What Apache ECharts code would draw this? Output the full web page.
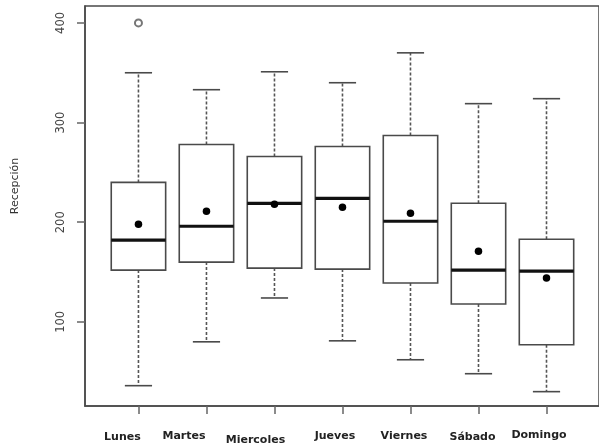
<!DOCTYPE html>
<html>
<head>
<meta charset="utf-8">
<script src="https://cdn.jsdelivr.net/npm/echarts@6/dist/echarts.min.js"></script>
<style>html,body{margin:0;padding:0;background:#fff;}#c{width:599px;height:448px;}</style>
</head>
<body>
<div id="c"></div>
<script>
const categories = ['Lunes','Martes','Miercoles','Jueves','Viernes','Sábado','Domingo'];
const whiskerLow  = [36, 80, 124, 81, 62, 48, 30];
const q1          = [152, 160, 154, 153, 139, 118, 77];
const median      = [182, 196, 219, 224, 201, 152, 151];
const q3          = [240, 278, 266, 276, 287, 219, 183];
const whiskerHigh = [350, 333, 351, 340, 370, 319, 324];
const means       = [198, 211, 218, 215, 209, 171, 144];
const outliers    = [[0, 400]];
const yTicks      = [100, 200, 300, 400];

// label placement styles (not data)
const labelDx = [-16, -22.5, -19, -7.5, -6.5, -6, -7.5];
const labelDy = [0, -1.5, 2.5, -1, -1, 0, -2];

const boxData = categories.map((c, i) => [i, whiskerLow[i], q1[i], median[i], q3[i], whiskerHigh[i]]);
const meanData = categories.map((c, i) => [i, means[i]]);
const xTicks = categories.map((c, i) => i);

const rich = {};
categories.forEach((c, i) => {
  const dx = labelDx[i], dy = labelDy[i] + 2;
  rich['l' + i] = {
    fontFamily: 'DejaVu Sans', fontSize: 11, fontWeight: 'bold', color: '#222',
    padding: [dy, dx < 0 ? -2 * dx : 0, 0, dx > 0 ? 2 * dx : 0]
  };
});

const lineColor = '#4a4a4a';

function renderBox(params, api) {
  const x = api.value(0);
  const pLow = api.coord([x, api.value(1)]);
  const pQ1 = api.coord([x, api.value(2)]);
  const pMed = api.coord([x, api.value(3)]);
  const pQ3 = api.coord([x, api.value(4)]);
  const pHigh = api.coord([x, api.value(5)]);
  const half = api.size([0.8, 0])[0] / 2;
  const cap = api.size([0.4, 0])[0] / 2;
  const cx = pMed[0];
  const dashStyle = { stroke: '#555', lineWidth: 1.6, lineDash: [3, 2] };
  const solid = { stroke: lineColor, lineWidth: 1.6 };
  return {
    type: 'group',
    children: [
      { type: 'line', shape: { x1: cx, y1: pQ3[1], x2: cx, y2: pHigh[1] }, style: dashStyle },
      { type: 'line', shape: { x1: cx, y1: pQ1[1], x2: cx, y2: pLow[1] }, style: dashStyle },
      { type: 'line', shape: { x1: cx - cap, y1: pHigh[1], x2: cx + cap, y2: pHigh[1] }, style: solid },
      { type: 'line', shape: { x1: cx - cap, y1: pLow[1], x2: cx + cap, y2: pLow[1] }, style: solid },
      { type: 'rect', shape: { x: cx - half, y: pQ3[1], width: 2 * half, height: pQ1[1] - pQ3[1] },
        style: { fill: '#fff', stroke: lineColor, lineWidth: 1.6 } },
      { type: 'line', shape: { x1: cx - half, y1: pMed[1], x2: cx + half, y2: pMed[1] },
        style: { stroke: '#111', lineWidth: 3.2 } }
    ]
  };
}

const chart = echarts.init(document.getElementById('c'), null, { renderer: 'canvas' });
chart.setOption({
  backgroundColor: '#fff',
  animation: false,
  grid: { left: 85, right: -5, top: 6, bottom: 42, show: true, borderColor: lineColor, borderWidth: 1.5, backgroundColor: 'transparent' },
  xAxis: {
    type: 'value', min: -0.786, max: 6.772,
    splitLine: { show: false },
    axisLine: { show: true, onZero: false, lineStyle: { color: lineColor, width: 1.5 } },
    axisTick: { show: true, customValues: xTicks, length: 8, lineStyle: { color: '#666', width: 1.5 } },
    axisLabel: {
      customValues: xTicks, margin: 24,
      formatter: v => '{l' + v + '|' + categories[v] + '}',
      rich: rich
    }
  },
  yAxis: {
    type: 'value', min: 15.6, max: 417,
    splitLine: { show: false },
    axisLine: { show: true, onZero: false, lineStyle: { color: lineColor, width: 1.5 } },
    axisTick: { show: true, customValues: yTicks, length: 8, lineStyle: { color: '#666', width: 1.5 } },
    axisLabel: { customValues: yTicks, rotate: 90, margin: 18, fontFamily: 'DejaVu Sans', fontSize: 11.5, color: '#444' }
  },
  graphic: [{
    type: 'text', x: 15, y: 186, rotation: Math.PI / 2,
    style: { text: 'Recepción', fontFamily: 'DejaVu Sans', fontSize: 11, fill: '#333', align: 'center', verticalAlign: 'middle' }
  }],
  series: [
    { type: 'custom', renderItem: renderBox, data: boxData, encode: { x: 0, y: [1, 2, 3, 4, 5] }, z: 2 },
    { type: 'scatter', data: meanData, symbol: 'circle', symbolSize: 7.5, itemStyle: { color: '#000', opacity: 1 }, z: 3 },
    { type: 'scatter', data: outliers, symbol: 'emptyCircle', symbolSize: 7, itemStyle: { color: '#777', borderWidth: 1.3, opacity: 1 }, z: 3 }
  ]
});
</script>
</body>
</html>
